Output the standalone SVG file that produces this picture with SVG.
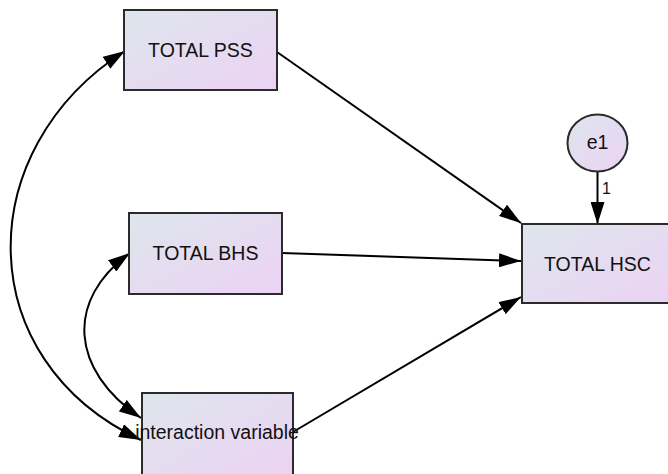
<svg xmlns="http://www.w3.org/2000/svg" width="668" height="474" viewBox="0 0 668 474">
  <defs>
    <linearGradient id="boxFill" x1="0" y1="0" x2="1" y2="1">
      <stop offset="0" stop-color="#dee6ec"/>
      <stop offset="1" stop-color="#ecd2f4"/>
    </linearGradient>
    <marker id="head" viewBox="0 0 22 14" refX="22" refY="7" markerWidth="22" markerHeight="14" markerUnits="userSpaceOnUse" orient="auto-start-reverse">
      <path d="M0,0 L22,7 L0,14 Z" fill="#000"/>
    </marker>
    <style>
      .box { fill: url(#boxFill); stroke: #2b2b2b; stroke-width: 2; }
      .lbl { font-family: "Liberation Sans", Arial, sans-serif; font-size: 19.5px; fill: #111; text-anchor: middle; }
      .path { fill: none; stroke: #000; stroke-width: 2; marker-end: url(#head); }
      .cov { fill: none; stroke: #000; stroke-width: 2; marker-start: url(#head); marker-end: url(#head); }
      .wt { font-family: "Liberation Sans", Arial, sans-serif; font-size: 16px; fill: #111; }
    </style>
  </defs>

  <g id="connectors">
    <!-- regression paths -->
    <line class="path" x1="277" y1="52" x2="521" y2="223"/>
    <line class="path" x1="282" y1="253" x2="521" y2="261"/>
    <line class="path" x1="293" y1="432" x2="521" y2="297"/>
    <line class="path" x1="597.5" y1="171" x2="597.5" y2="224"/>
    <text class="wt" x="602" y="194">1</text>
    <!-- covariances -->
    <path class="cov" d="M125,51 C-30,150 -30,360 141,440"/>
    <path class="cov" d="M130,253 C65,300 70,370 141,418"/>
  </g>

  <g id="pss">
    <rect class="box" x="124" y="10" width="153" height="80"/>
    <text class="lbl" x="200.5" y="57">TOTAL PSS</text>
  </g>
  <g id="bhs">
    <rect class="box" x="129" y="213" width="153" height="81"/>
    <text class="lbl" x="205.5" y="260">TOTAL BHS</text>
  </g>
  <g id="interaction">
    <rect class="box" x="142" y="393" width="151" height="82"/>
    <text class="lbl" x="217" y="439">interaction variable</text>
  </g>
  <g id="hsc">
    <rect class="box" x="522" y="224" width="152" height="79"/>
    <text class="lbl" x="597.5" y="271">TOTAL HSC</text>
  </g>
  <g id="e1">
    <ellipse class="box" cx="597.5" cy="143" rx="30" ry="28.5"/>
    <text class="lbl" x="597.5" y="149">e1</text>
  </g>
</svg>
